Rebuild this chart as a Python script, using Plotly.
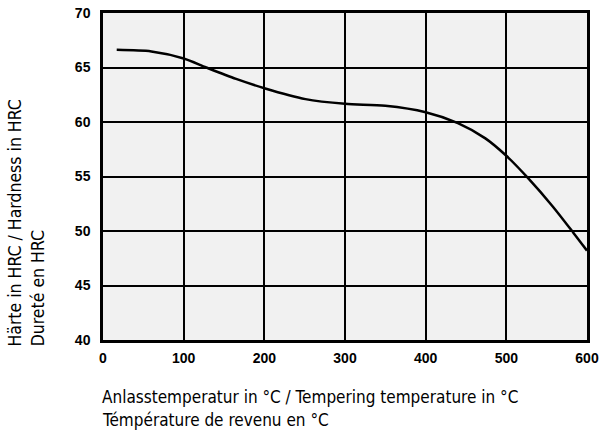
import plotly.graph_objects as go

# Data
temperature = [17, 60, 100, 128, 165, 200, 251, 300, 350, 400, 440, 474, 500, 527, 557, 583, 600]
hardness = [66.62, 66.47, 65.83, 65.0, 63.95, 63.1, 62.1, 61.67, 61.49, 60.9, 59.9, 58.5, 56.9, 54.85, 52.3, 49.85, 48.2]

x_ticks = [0, 100, 200, 300, 400, 500, 600]
y_ticks = [40, 45, 50, 55, 60, 65, 70]

x_title_1 = "Anlasstemperatur in °C / Tempering temperature in °C"
x_title_2 = "Témpérature de revenu en °C"
y_title_1 = "Härte in HRC / Hardness in HRC"
y_title_2 = "Dureté en HRC"

x_title_font = dict(family="DejaVu Sans Condensed, DejaVu Sans", size=17, color="black")
y_title_font = dict(family="DejaVu Sans Condensed, DejaVu Sans", size=17.5, color="black")
tick_font = dict(family="Liberation Sans, Arial", size=14, color="black", weight="bold")

fig = go.Figure()
fig.add_trace(go.Scatter(
    x=temperature, y=hardness, mode="lines",
    line=dict(color="black", width=2.5, shape="spline", smoothing=0.8),
    showlegend=False, hoverinfo="skip",
))

fig.update_layout(
    width=603, height=439,
    margin=dict(l=103, r=16, t=13, b=99),
    paper_bgcolor="white",
    plot_bgcolor="#f1f1f1",
    showlegend=False,
)
fig.update_xaxes(
    range=[0, 600], tickvals=x_ticks, ticktext=[str(v) for v in x_ticks],
    showgrid=True, gridcolor="black", gridwidth=2,
    showline=True, linecolor="black", linewidth=2.5, mirror=True,
    ticks="", tickfont=tick_font, ticklabelstandoff=3, zeroline=False,
    automargin=False,
)
fig.update_yaxes(
    range=[40, 70], tickvals=y_ticks, ticktext=[str(v) for v in y_ticks],
    showgrid=True, gridcolor="black", gridwidth=2,
    showline=True, linecolor="black", linewidth=2.5, mirror=True,
    ticks="", tickfont=tick_font, ticklabelstandoff=7, zeroline=False,
    automargin=False,
)

annotations = [
    dict(text=x_title_1, x=-0.006, y=-0.173, xref="paper", yref="paper",
         xanchor="left", yanchor="middle", showarrow=False, font=x_title_font),
    dict(text=x_title_2, x=-0.006, y=-0.245, xref="paper", yref="paper",
         xanchor="left", yanchor="middle", showarrow=False, font=x_title_font),
    dict(text=y_title_1, x=-0.182, y=-0.025, xref="paper", yref="paper",
         xanchor="center", yanchor="bottom", textangle=-90, showarrow=False, font=y_title_font),
    dict(text=y_title_2, x=-0.134, y=-0.025, xref="paper", yref="paper",
         xanchor="center", yanchor="bottom", textangle=-90, showarrow=False, font=y_title_font),
]
fig.update_layout(annotations=annotations)

fig.write_html(
    "out.html",
    config={"displayModeBar": False},
    post_script="document.body.style.margin='0';document.body.style.overflow='hidden';",
)
